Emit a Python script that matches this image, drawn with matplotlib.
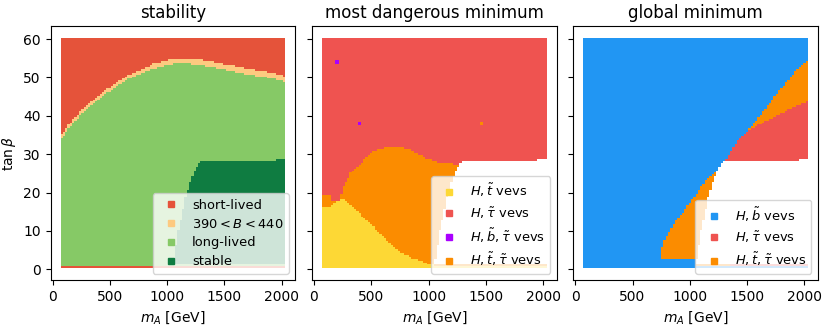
import numpy as np
import matplotlib
matplotlib.use('Agg')
import matplotlib.pyplot as plt
from matplotlib.colors import ListedColormap
from matplotlib.lines import Line2D

# scan grid
m_A = np.arange(80, 2021, 20)
tan_beta = np.arange(0.5, 60.01, 0.5)

# stability: upper edge of long-lived region (and width of the 390<B<440 band)
stab_mA = [80, 150, 250, 400, 550, 700, 880, 1050, 1200, 1300, 1450, 1600, 1750, 1900, 2020]
long_top = [34.0, 37.0, 40.5, 44.2, 47.6, 50.2, 52.3, 53.5, 53.5, 53.2, 52.4, 51.4, 50.6, 49.8, 48.9]
band_w = [1.0, 1.0, 1.0, 1.0, 1.0, 1.0, 1.2, 1.3, 1.3, 1.3, 1.4, 1.5, 1.5, 1.5, 1.5]

# stable region: left edge vs tan(beta) and top edge vs m_A
stable_tb = [1.5, 5, 10, 15, 20, 25, 28]
stable_left = [1050, 1075, 1100, 1135, 1170, 1230, 1282]
stable_top_mA = [1282, 1940, 1960, 2020]
stable_top = [28.0, 28.0, 28.5, 28.5]

# row tan(beta)=1 just below the stable region
strip_lo, strip_hi = 1050, 1350

# most dangerous minimum: yellow top and red bottom edges
dang_mA = [80, 140, 229, 317, 404, 521, 638, 755, 873, 990, 1100]
yellow_top = [16.3, 16.3, 18.7, 17.0, 14.4, 11.0, 7.5, 4.5, 2.8, 1.5, 0.8]
red_mA = [80, 140, 150, 220, 258, 331, 404, 507, 638, 755, 843, 960, 1078, 1254, 1300]
red_bot = [19.3, 19.3, 17.5, 17.5, 21.4, 25.7, 27.5, 30.5, 31.8, 31.8, 31.0, 29.2, 27.9, 27.4, 27.6]
odd_mA = [200, 400, 1460]
odd_tb = [54.0, 38.0, 38.0]
odd_cat = [2, 2, 3]

# global minimum: lower edge of H,b region and top of H,tau region
glob_mA = [760, 790, 864, 952, 1040, 1128, 1216, 1274, 1333, 1480, 1626, 1773, 1919, 2020]
blue_lo = [6.0, 8.5, 12.0, 15.4, 18.9, 22.8, 25.0, 27.2, 29.3, 35.0, 40.6, 46.3, 51.5, 54.3]
gred_mA = [1300, 1350, 1400, 1480, 1626, 1773, 1919, 2020]
gred_top = [28.0, 30.5, 33.0, 35.5, 38.1, 40.2, 42.4, 43.7]

stab_labels = ['short-lived', r'$390 < B < 440$', 'long-lived', 'stable']
stab_colors = ['#e5533a', '#fdca80', '#86c966', '#0f7c41']
dang_labels = [r'$H, \tilde{t}$ vevs', r'$H, \tilde{\tau}$ vevs',
               r'$H, \tilde{b}, \tilde{\tau}$ vevs', r'$H, \tilde{t}, \tilde{\tau}$ vevs']
dang_colors = ['#fdd835', '#ef5350', '#aa00ff', '#fb8c00']
glob_labels = [r'$H, \tilde{b}$ vevs', r'$H, \tilde{\tau}$ vevs', r'$H, \tilde{t}, \tilde{\tau}$ vevs']
glob_colors = ['#2196f3', '#ef5350', '#fb8c00']


M, T = np.meshgrid(m_A, tan_beta)

stable = (T >= 1.5) & (M >= np.interp(T, stable_tb, stable_left)) & \
         (T <= np.interp(M, stable_top_mA, stable_top)) & (M >= 1040)

# stability map
lt = np.interp(M, stab_mA, long_top)
bw = np.interp(M, stab_mA, band_w)
stab = np.full(M.shape, 2.0)
stab[T > lt] = 1
stab[T > lt + bw] = 0
stab[T < 0.75] = 0
stab[stable] = 3

# most dangerous minimum
dang = np.full(M.shape, 3.0)
dang[T <= np.interp(M, dang_mA, yellow_top)] = 0
dang[T > np.interp(M, red_mA, red_bot)] = 1
dang[(T > 0.75) & (T < 1.25) & (M > strip_lo) & (M < strip_hi)] = 3
dang[stable] = np.nan
dang[T < 0.75] = 0

# global minimum
glob = np.zeros(M.shape)
glob[(M >= 750) & (T < np.interp(M, glob_mA, blue_lo)) & (T >= 3)] = 2
glob[(M >= 1300) & (T < np.interp(M, gred_mA, gred_top))] = 1
glob[(T > 0.75) & (T < 1.25) & (M > strip_lo) & (M < strip_hi)] = 2
glob[stable] = np.nan
glob[T < 0.75] = 0

fig, axes = plt.subplots(1, 3, figsize=(8.3, 3.26), dpi=100, sharey=True)
fig.subplots_adjust(left=0.061, right=0.9855, top=0.92, bottom=0.141, wspace=0.068)

panels = [(stab, stab_colors, stab_labels, 'stability'),
          (dang, dang_colors, dang_labels, 'most dangerous minimum'),
          (glob, glob_colors, glob_labels, 'global minimum')]

for ax, (Z, colors, labels, title) in zip(axes, panels):
    cmap = ListedColormap(colors)
    ax.pcolormesh(m_A, tan_beta, np.ma.masked_invalid(Z), cmap=cmap,
                  vmin=-0.5, vmax=len(colors) - 0.5, shading='nearest')
    if title == 'most dangerous minimum':
        # isolated points, drawn a little larger than one scan cell
        ax.scatter(odd_mA, odd_tb, c=[colors[c] for c in odd_cat], marker='s', s=6, lw=0)
    handles = [Line2D([], [], marker='s', ls='', color=c, markersize=5) for c in colors]
    ax.legend(handles, labels, loc='lower right', handletextpad=0.6, fontsize=9.4,
              labelspacing=0.45)
    ax.set_title(title)
    ax.set_xlabel(r'$m_A$ [GeV]')
    ax.set_xlim(-17, 2118)
    ax.set_ylim(-2.8, 63.4)
    ax.set_xticks([0, 500, 1000, 1500, 2000])
    ax.set_yticks([0, 10, 20, 30, 40, 50, 60])

axes[0].set_ylabel(r'$\tan\beta$')

plt.savefig('out.png')
